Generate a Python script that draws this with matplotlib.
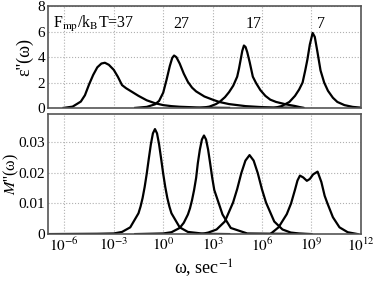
import numpy as np
import matplotlib
matplotlib.use("Agg")
import matplotlib.pyplot as plt

plt.rcParams['font.family'] = ['Liberation Serif', 'DejaVu Serif']
plt.rcParams['mathtext.fontset'] = 'stix'

# log10(omega) / eps'' curves (top panel)
eps_x1 = [-6.05, -5.5, -5.0, -4.75, -4.5, -4.25, -4.0, -3.75, -3.54, -3.3, -3.0, -2.75, -2.5, -2.25, -2.0, -1.5, -1.0, -0.5, 0.0, 0.5, 1.0, 2.0, 3.0, 4.0]
eps_y1 = [0.0, 0.1, 0.5, 1.0, 1.85, 2.6, 3.2, 3.5, 3.56, 3.4, 3.0, 2.45, 1.8, 1.55, 1.35, 0.95, 0.6, 0.37, 0.22, 0.14, 0.09, 0.04, 0.015, 0.0]
eps_x2 = [-1.7, -1.0, -0.5, -0.25, 0.0, 0.2, 0.4, 0.55, 0.66, 0.8, 1.0, 1.25, 1.5, 1.75, 2.0, 2.5, 3.0, 3.4, 4.0, 5.0, 6.0, 7.0, 8.5]
eps_y2 = [0.0, 0.08, 0.28, 0.55, 1.2, 2.2, 3.3, 3.95, 4.13, 4.0, 3.5, 2.7, 2.05, 1.6, 1.3, 0.9, 0.65, 0.47, 0.3, 0.14, 0.06, 0.025, 0.0]
eps_x3 = [2.3, 2.8, 3.2, 3.42, 3.75, 4.0, 4.25, 4.49, 4.6, 4.7, 4.8, 4.9, 5.0, 5.1, 5.25, 5.44, 5.64, 5.9, 6.2, 6.5, 6.85, 7.45, 8.0, 8.5]
eps_y3 = [0.0, 0.1, 0.3, 0.47, 0.85, 1.25, 1.75, 2.46, 3.1, 3.8, 4.5, 4.92, 4.8, 4.4, 3.6, 2.46, 1.95, 1.4, 0.95, 0.65, 0.47, 0.28, 0.15, 0.0]
eps_x4 = [6.75, 7.2, 7.66, 8.0, 8.25, 8.46, 8.62, 8.75, 8.9, 9.07, 9.2, 9.35, 9.55, 9.77, 10.0, 10.3, 10.57, 11.0, 11.5, 12.0]
eps_y4 = [0.0, 0.15, 0.47, 0.95, 1.45, 2.0, 2.95, 3.8, 5.0, 5.91, 5.6, 4.5, 2.95, 2.0, 1.35, 0.8, 0.47, 0.22, 0.08, 0.02]

# M'' curves (bottom panel)
m_x1 = [-7.0, -4.0, -3.0, -2.5, -2.0, -1.5, -1.375, -1.25, -1.125, -1.0, -0.875, -0.75, -0.625, -0.5, -0.375, -0.25, -0.125, 0.0, 0.125, 0.25, 0.375, 0.5, 1.0, 1.5, 2.5, 4.0]
m_y1 = [0.0, 0.0001, 0.0002, 0.0007, 0.0022, 0.0068, 0.009, 0.0118, 0.0154, 0.0197, 0.0246, 0.0293, 0.0329, 0.0343, 0.0329, 0.0293, 0.0246, 0.0197, 0.0154, 0.0118, 0.009, 0.0068, 0.0022, 0.0007, 0.0001, 0.0]
m_x2 = [-1.7, 0.0, 0.5, 1.0, 1.25, 1.5, 1.625, 1.75, 1.875, 2.0, 2.1, 2.225, 2.35, 2.475, 2.6, 2.725, 2.85, 2.975, 3.1, 3.6, 4.1, 5.1, 8.5]
m_y2 = [0.0, 0.0002, 0.0006, 0.002, 0.0037, 0.0064, 0.0084, 0.0111, 0.0144, 0.0184, 0.0231, 0.0276, 0.0309, 0.0322, 0.0309, 0.0276, 0.0231, 0.0184, 0.0144, 0.0064, 0.002, 0.0002, 0.0]
m_x3 = [2.3, 2.74, 3.24, 3.74, 4.24, 4.49, 4.74, 4.99, 5.24, 5.49, 5.74, 5.99, 6.24, 6.74, 7.24, 7.74, 8.24, 9.0]
m_y3 = [0.0, 0.0005, 0.0015, 0.0041, 0.0103, 0.0147, 0.0199, 0.024, 0.0258, 0.024, 0.0199, 0.0147, 0.0103, 0.0041, 0.0015, 0.0005, 0.0002, 0.0]
m_x4 = [6.5, 7.0, 7.5, 7.76, 8.0, 8.15, 8.3, 8.5, 8.72, 8.9, 9.1, 9.37, 9.6, 9.8, 9.97, 10.3, 10.7, 11.2, 11.8]
m_y4 = [0.0, 0.0022, 0.0065, 0.01, 0.0145, 0.0175, 0.0191, 0.0185, 0.0174, 0.018, 0.0195, 0.0204, 0.017, 0.0125, 0.01, 0.0055, 0.0022, 0.0006, 0.0]

labels = ["F$_{\\rm mp}$/k$_{\\rm B}$T=37", "27", "17", "7"]
label_x = [-6.66, 0.59, 5.0, 9.35]
xticks = [-6, -3, 0, 3, 6, 9, 12]

fig = plt.figure(figsize=(3.74, 2.81), dpi=100)
ax1 = fig.add_axes([0.128, 0.616, 0.837, 0.361])
ax2 = fig.add_axes([0.128, 0.167, 0.837, 0.427])

for xs, ys in [(eps_x1, eps_y1), (eps_x2, eps_y2), (eps_x3, eps_y3), (eps_x4, eps_y4)]:
    ax1.plot(10.0 ** np.array(xs), ys, color='black', lw=1.6, solid_joinstyle='round')
for xs, ys in [(m_x1, m_y1), (m_x2, m_y2), (m_x3, m_y3), (m_x4, m_y4)]:
    ax2.plot(10.0 ** np.array(xs), ys, color='black', lw=1.6, solid_joinstyle='round')

for ax in (ax1, ax2):
    ax.set_xscale('log')
    ax.set_xlim(1e-7, 1e12)
    ax.set_xticks([10.0 ** t for t in xticks])
    ax.minorticks_off()
    ax.grid(True, color='#b0b0b0', linestyle=':', linewidth=0.8)
    ax.set_axisbelow(True)
    ax.tick_params(length=0, labelsize=11, pad=2)
    for s in ax.spines.values():
        s.set_color('#555555')
        s.set_linewidth(1.2)

ax1.set_ylim(0, 8)
ax1.set_yticks([0, 2, 4, 6, 8])
ax1.set_xticklabels([])
ax1.set_ylabel("ε''(ω)", fontsize=13)
ax1.yaxis.set_label_coords(-0.048, 0.5)
for lab, lx in zip(labels, label_x):
    ax1.text(10.0 ** lx, 6.33, lab, fontsize=11.5, ha='left', va='baseline')

ax2.set_ylim(0, 0.0392)
ax2.set_yticks([0, 0.01, 0.02, 0.03])
ax2.set_yticklabels(['0', '0.01', '0.02', '0.03'])
ax2.set_xticklabels(["$10^{%d}$" % t for t in xticks])
ax2.set_ylabel("$M$''(ω)", fontsize=11.5)
ax2.yaxis.set_label_coords(-0.087, 0.5)
ax2.set_xlabel("ω, sec$^{-1}$", fontsize=13, labelpad=2)

fig.savefig("out.png", dpi=100)
